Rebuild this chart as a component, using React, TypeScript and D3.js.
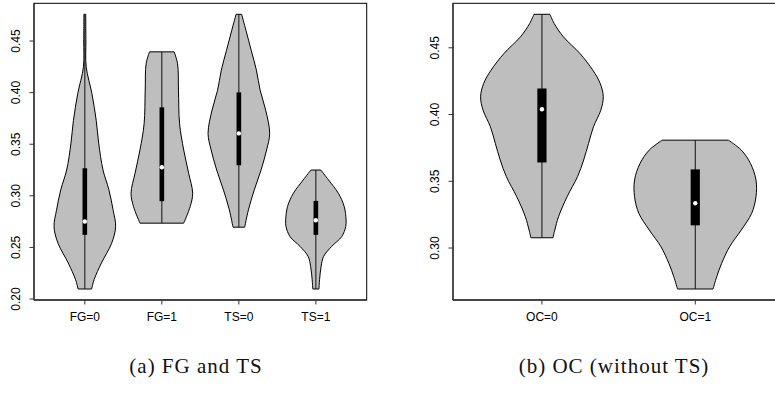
import React from "react";
import * as d3 from "d3";

const leftCategories = ["FG=0", "FG=1", "TS=0", "TS=1"];
const rightCategories = ["OC=0", "OC=1"];
const leftTicks = [0.2, 0.25, 0.3, 0.35, 0.4, 0.45];
const rightTicks = [0.3, 0.35, 0.4, 0.45];

// violin outlines: [value, relative half-width]
const fg0Density: [number, number][] = [
  [0.2097, 0.22], [0.2187, 0.3], [0.235, 0.54], [0.254, 0.87], [0.27, 1.0],
  [0.286, 0.92], [0.306, 0.78], [0.325, 0.59], [0.351, 0.45], [0.373, 0.37],
  [0.399, 0.23], [0.425, 0.045], [0.45, 0.035], [0.4759, 0.03],
];
const fg1Density: [number, number][] = [
  [0.2735, 0.71], [0.2896, 0.92], [0.3025, 1.0], [0.3219, 0.87], [0.3444, 0.71],
  [0.37, 0.575], [0.4024, 0.54], [0.428, 0.51], [0.4395, 0.4],
];
const ts0Density: [number, number][] = [
  [0.2696, 0.19], [0.2864, 0.31], [0.3057, 0.5], [0.325, 0.72], [0.3444, 0.9],
  [0.3605, 1.0], [0.3831, 0.87], [0.4024, 0.69], [0.4217, 0.57], [0.4411, 0.4],
  [0.4604, 0.23], [0.4759, 0.09],
];
const ts1Density: [number, number][] = [
  [0.2097, 0.1], [0.2187, 0.12], [0.2315, 0.17], [0.2412, 0.25], [0.2509, 0.51],
  [0.2605, 0.84], [0.2702, 0.97], [0.2767, 0.98], [0.2896, 0.92], [0.3025, 0.73],
  [0.3154, 0.41], [0.325, 0.16],
];
const oc0Density: [number, number][] = [
  [0.3077, 0.18], [0.3135, 0.21], [0.3234, 0.27], [0.3384, 0.41], [0.3534, 0.58],
  [0.3659, 0.68], [0.3784, 0.76], [0.3908, 0.84], [0.4033, 0.96], [0.4133, 1.0],
  [0.4233, 0.95], [0.4332, 0.83], [0.4457, 0.62], [0.4582, 0.35], [0.4682, 0.2],
  [0.4751, 0.13],
];
const oc1Density: [number, number][] = [
  [0.2693, 0.29], [0.2785, 0.35], [0.2885, 0.43], [0.301, 0.56], [0.3135, 0.75],
  [0.326, 0.92], [0.3384, 0.99], [0.3509, 0.99], [0.3634, 0.9], [0.3734, 0.75],
  [0.3808, 0.54],
];

const leftQ1 = [0.2622, 0.2948, 0.3296, 0.2622];
const leftMedian = [0.2751, 0.3277, 0.3605, 0.2764];
const leftQ3 = [0.3267, 0.3857, 0.4002, 0.2951];

const rightQ1 = [0.3641, 0.317];
const rightMedian = [0.404, 0.3335];
const rightQ3 = [0.4195, 0.3589];

const font = "'Liberation Sans', Arial, Helvetica, sans-serif";

type PanelProps = {
  x0: number;
  x1: number;
  categories: string[];
  densities: [number, number][][];
  q1: number[];
  median: number[];
  q3: number[];
  ticks: number[];
};

function ViolinPanel({ x0, x1, categories, densities, q1, median, q3, ticks }: PanelProps) {
  const top = 3.3;
  const bottom = 300;
  const n = categories.length;

  // R style 4% axis extension
  const xScale = d3.scaleLinear()
    .domain([0.5 - n * 0.04, n + 0.5 + n * 0.04])
    .range([x0, x1]);

  const lo = d3.min(densities, (d) => d[0][0])!;
  const hi = d3.max(densities, (d) => d[d.length - 1][0])!;
  const pad = (hi - lo) * 0.04;
  const yScale = d3.scaleLinear().domain([lo - pad, hi + pad]).range([bottom, top]);

  const unit = xScale(1) - xScale(0);
  const boxW = 0.06 * unit;

  return (
    <g>
      {densities.map((dens, i) => {
        const cx = xScale(i + 1);
        const area = d3.area<[number, number]>()
          .y((d) => yScale(d[0]))
          .x0((d) => cx - d[1] * 0.4 * unit)
          .x1((d) => cx + d[1] * 0.4 * unit)
          .curve(d3.curveCatmullRom);
        return (
          <g key={categories[i]}>
            <path d={area(dens) ?? ""} fill="#bebebe" stroke="#000" strokeWidth={1} />
            <line x1={cx} x2={cx} y1={yScale(dens[0][0])} y2={yScale(dens[dens.length - 1][0])}
              stroke="#111" strokeWidth={1} />
            <rect x={cx - boxW / 2} width={boxW} y={yScale(q3[i])}
              height={yScale(q1[i]) - yScale(q3[i])} fill="#000" />
            <circle cx={cx} cy={yScale(median[i])} r={2.2} fill="#fff" />
          </g>
        );
      })}

      <rect x={x0} y={top} width={x1 - x0} height={bottom - top} fill="none" stroke="#000" strokeWidth={1} />
      <line x1={x0} x2={x1} y1={bottom} y2={bottom} stroke="#333" strokeWidth={1.3} />
      <line x1={x0} x2={x0} y1={top} y2={bottom} stroke="#333" strokeWidth={1.3} />

      {ticks.map((t) => (
        <g key={t} transform={`translate(${x0},${yScale(t)})`}>
          <line x1={-4.5} x2={0} stroke="#333" />
          <text transform="translate(-14.5,0) rotate(-90)" textAnchor="middle"
            fontFamily={font} fontSize={12} fill="#000">{t.toFixed(2)}</text>
        </g>
      ))}

      {categories.map((c, i) => (
        <g key={c} transform={`translate(${xScale(i + 1)},${bottom})`}>
          <line y1={0} y2={4.5} stroke="#333" />
          <text y={21} textAnchor="middle" fontFamily={font} fontSize={12} fill="#000">{c}</text>
        </g>
      ))}
    </g>
  );
}

export default function App() {
  const serif = "'Liberation Serif', 'Times New Roman', serif";
  return (
    <svg width={775} height={398} style={{ position: "absolute", left: 0, top: 0, background: "#fff" }}>
      <ViolinPanel x0={34} x1={366.7} categories={leftCategories}
        densities={[fg0Density, fg1Density, ts0Density, ts1Density]}
        q1={leftQ1} median={leftMedian} q3={leftQ3} ticks={leftTicks} />
      <ViolinPanel x0={453} x1={784.2} categories={rightCategories}
        densities={[oc0Density, oc1Density]}
        q1={rightQ1} median={rightMedian} q3={rightQ3} ticks={rightTicks} />
      <text x={196} y={373} textAnchor="middle" fontFamily={serif} fontSize={21}
        letterSpacing={1} fill="#111">(a) FG and TS</text>
      <text x={614} y={373} textAnchor="middle" fontFamily={serif} fontSize={21}
        letterSpacing={1} fill="#111">(b) OC (without TS)</text>
    </svg>
  );
}
